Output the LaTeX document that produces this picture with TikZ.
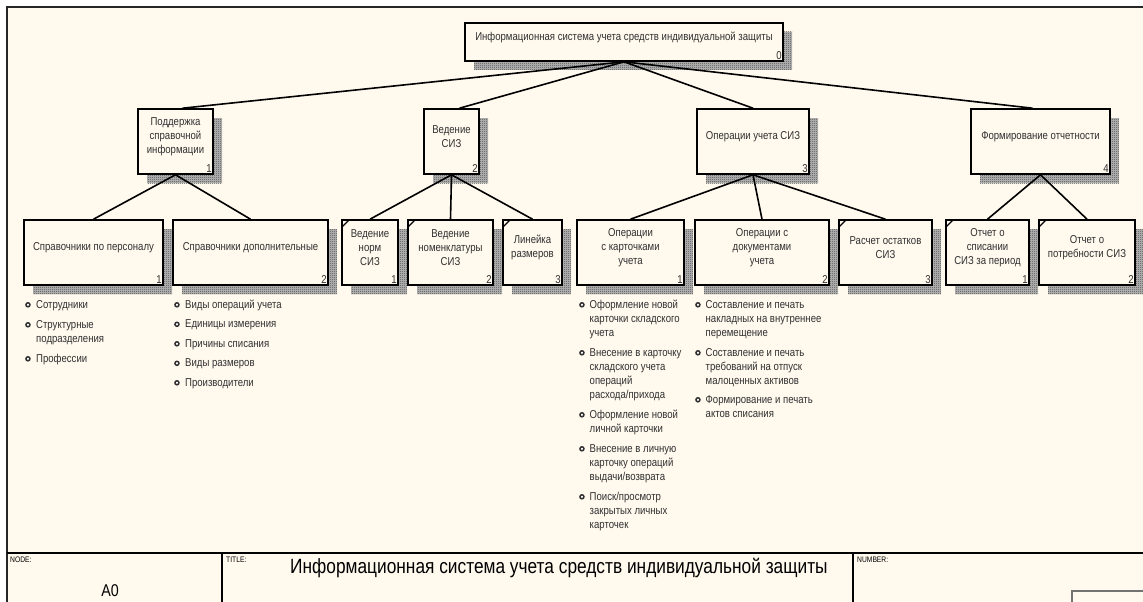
\documentclass[tikz,border=0pt]{standalone}
\usepackage{fontspec}
\setmainfont{Liberation Sans}[FakeStretch=0.84]
\usetikzlibrary{shadows,patterns}
\usepackage{xcolor}
\definecolor{cream}{HTML}{FFF9EE}
\definecolor{ink}{HTML}{303030}
% fine checker used for the box shadows
\pgfdeclarepatternformonly{shadechk}{\pgfqpoint{0pt}{0pt}}{\pgfqpoint{2pt}{2pt}}{\pgfqpoint{2pt}{2pt}}{%
  \pgfpathrectangle{\pgfqpoint{0pt}{0pt}}{\pgfqpoint{1pt}{1pt}}%
  \pgfpathrectangle{\pgfqpoint{1pt}{1pt}}{\pgfqpoint{1pt}{1pt}}%
  \pgfusepath{fill}}
\newcommand\fnfont{\fontsize{11.4}{14}\selectfont}
% ring bullet for the lists
\newcommand\bul{\tikz[baseline=-3.2pt]\draw[line width=1.5pt, fill=white] (0pt,0pt) circle (2pt);}
\tikzset{
  shadecast/.style={
    drop shadow={shadow xshift=9pt, shadow yshift=-9pt, opacity=1, fill=black!28},
    drop shadow={shadow xshift=9pt, shadow yshift=-9pt, opacity=1, pattern=shadechk, pattern color=black!70}},
  fnbox/.style={draw=black, line width=1.6pt, fill=cream, inner sep=0pt, shadecast},
  fntext/.style={font=\fnfont, align=center, text=ink, yshift=5pt},
  numtag/.style={font=\fnfont, text=ink, anchor=south east, inner sep=2pt},
  leaf/.style={path picture={\draw[line width=1.2pt] ([yshift=-7pt]path picture bounding box.north west) -- ([xshift=7pt]path picture bounding box.north west);}},
  link/.style={line width=1.6pt, draw=black},
  itemlist/.style={font=\fnfont, text=ink, anchor=north west, inner sep=0pt},
  tag/.style={font=\fontsize{8}{9}\selectfont, anchor=north west, inner sep=0pt}
}

\begin{document}
\begin{tikzpicture}[x=1pt, y=-1pt]
  \useasboundingbox (0,0) rectangle (1143,602);
  % sheet and frame
  \fill[white] (0,0) rectangle (1143,602);
  \fill[cream] (7,7) rectangle (1143,602);
  \draw[line width=2.4pt, draw=black!85] (7,602) -- (7,7) -- (1143,7);

  % root
  \node[fnbox, minimum width=318, minimum height=38, label={[fntext]center:{Информационная система учета средств индивидуальной защиты}}, label={[numtag]south east:0}] (sys) at (624,42) {};

  % first level
  \node[fnbox, minimum width=75, minimum height=65, label={[fntext]center:{Поддержка\\справочной\\информации}}, label={[numtag]south east:1}] (spr) at (175.5,141.5) {};
  \node[fnbox, minimum width=55, minimum height=65, label={[fntext]center:{Ведение\\СИЗ}}, label={[numtag]south east:2}] (ved) at (451.5,141.5) {};
  \node[fnbox, minimum width=112, minimum height=65, label={[fntext]center:{Операции учета СИЗ}}, label={[numtag]south east:3}] (ops) at (753,141.5) {};
  \node[fnbox, minimum width=139, minimum height=65, label={[fntext]center:{Формирование отчетности}}, label={[numtag]south east:4}] (rep) at (1040.5,141.5) {};

  \draw[link] (sys.south) -- ([xshift=7pt]spr.north);
  \draw[link] (sys.south) -- ([xshift=8pt]ved.north);
  \draw[link] (sys.south) -- (ops.north);
  \draw[link] (sys.south) -- ([xshift=-8pt]rep.north);

  % second level
  \node[fnbox, minimum width=139, minimum height=65, label={[fntext]center:{Справочники по персоналу}}, label={[numtag]south east:1}] (sprPers) at (93.5,252.5) {};
  \node[fnbox, minimum width=155, minimum height=65, label={[fntext]center:{Справочники дополнительные}}, label={[numtag]south east:2}] (sprDop) at (250.5,252.5) {};
  \node[fnbox, leaf, minimum width=56, minimum height=65, label={[fntext]center:{Ведение\\норм\\СИЗ}}, label={[numtag]south east:1}] (vedNorm) at (370,252.5) {};
  \node[fnbox, leaf, minimum width=85, minimum height=65, label={[fntext]center:{Ведение\\номенклатуры\\СИЗ}}, label={[numtag]south east:2}] (vedNom) at (450.5,252.5) {};
  \node[fnbox, leaf, minimum width=59, minimum height=65, label={[fntext]center:{Линейка\\размеров}}, label={[numtag]south east:3}] (vedSize) at (532.5,252.5) {};
  \node[fnbox, minimum width=107, minimum height=65, label={[fntext]center:{Операции\\с карточками\\учета}}, label={[numtag]south east:1}] (opsCard) at (630.5,252.5) {};
  \node[fnbox, minimum width=134, minimum height=65, label={[fntext]center:{Операции с\\документами\\учета}}, label={[numtag]south east:2}] (opsDoc) at (762,252.5) {};
  \node[fnbox, leaf, minimum width=93, minimum height=65, label={[fntext]center:{Расчет остатков\\СИЗ}}, label={[numtag]south east:3}] (opsRest) at (885.5,252.5) {};
  \node[fnbox, leaf, minimum width=83, minimum height=65, label={[fntext]center:{Отчет о\\списании\\СИЗ за период}}, label={[numtag]south east:1}] (repWrite) at (987.5,252.5) {};
  \node[fnbox, leaf, minimum width=96, minimum height=65, label={[fntext]center:{Отчет о\\потребности СИЗ}}, label={[numtag]south east:2}] (repNeed) at (1087,252.5) {};

  \draw[link] (spr.south) -- (sprPers.north);
  \draw[link] (spr.south) -- (sprDop.north);
  \draw[link] (ved.south) -- (vedNorm.north);
  \draw[link] (ved.south) -- (vedNom.north);
  \draw[link] (ved.south) -- (vedSize.north);
  \draw[link] (ops.south) -- (opsCard.north);
  \draw[link] (ops.south) -- (opsDoc.north);
  \draw[link] (ops.south) -- (opsRest.north);
  \draw[link] (rep.south) -- (repWrite.north);
  \draw[link] (rep.south) -- (repNeed.north);

  % bullet lists under the boxes
  \node[itemlist] (lstPers) at (25,298) {\begin{tabular}{@{}l@{\hspace{5.5pt}}l@{}}
    \bul & Сотрудники\\[6pt]
    \bul & Структурные\\
         & подразделения\\[6pt]
    \bul & Профессии
  \end{tabular}};
  \node[itemlist] (lstDop) at (174,298) {\begin{tabular}{@{}l@{\hspace{5.5pt}}l@{}}
    \bul & Виды операций учета\\[5.5pt]
    \bul & Единицы измерения\\[5.5pt]
    \bul & Причины списания\\[5.5pt]
    \bul & Виды размеров\\[5.5pt]
    \bul & Производители
  \end{tabular}};
  \node[itemlist] (lstCard) at (579,298) {\begin{tabular}{@{}l@{\hspace{5pt}}l@{}}
    \bul & Оформление новой\\
         & карточки складского\\
         & учета\\[6pt]
    \bul & Внесение в карточку\\
         & складского учета\\
         & операций\\
         & расхода/прихода\\[6pt]
    \bul & Оформление новой\\
         & личной карточки\\[6pt]
    \bul & Внесение в личную\\
         & карточку операций\\
         & выдачи/возврата\\[6pt]
    \bul & Поиск/просмотр\\
         & закрытых личных\\
         & карточек
  \end{tabular}};
  \node[itemlist] (lstDoc) at (695,298) {\begin{tabular}{@{}l@{\hspace{5pt}}l@{}}
    \bul & Составление и печать\\
         & накладных на внутреннее\\
         & перемещение\\[6pt]
    \bul & Составление и печать\\
         & требований на отпуск\\
         & малоценных активов\\[5pt]
    \bul & Формирование и печать\\
         & актов списания
  \end{tabular}};

  % title block
  \draw[line width=1.4pt] (7,553) -- (1143,553);
  \draw[line width=1.4pt] (222,553) -- (222,602);
  \draw[line width=1.4pt] (853,553) -- (853,602);
  \draw[line width=1.4pt, draw=black!55] (1072,602) -- (1072,591) -- (1143,591);
  \node[tag] (nodeLbl) at (10,557) {NODE:};
  \node[font=\fontsize{17}{20}\selectfont, inner sep=0pt] (nodeId) at (110,591) {A0};
  \node[tag] (titleLbl) at (226,557) {TITLE:};
  \node[font=\fontsize{20.6}{24}\selectfont, anchor=west, inner sep=0pt] (titleTxt) at (290,568) {Информационная система учета средств индивидуальной защиты};
  \node[tag] (numLbl) at (857,557) {NUMBER:};
\end{tikzpicture}
\end{document}
